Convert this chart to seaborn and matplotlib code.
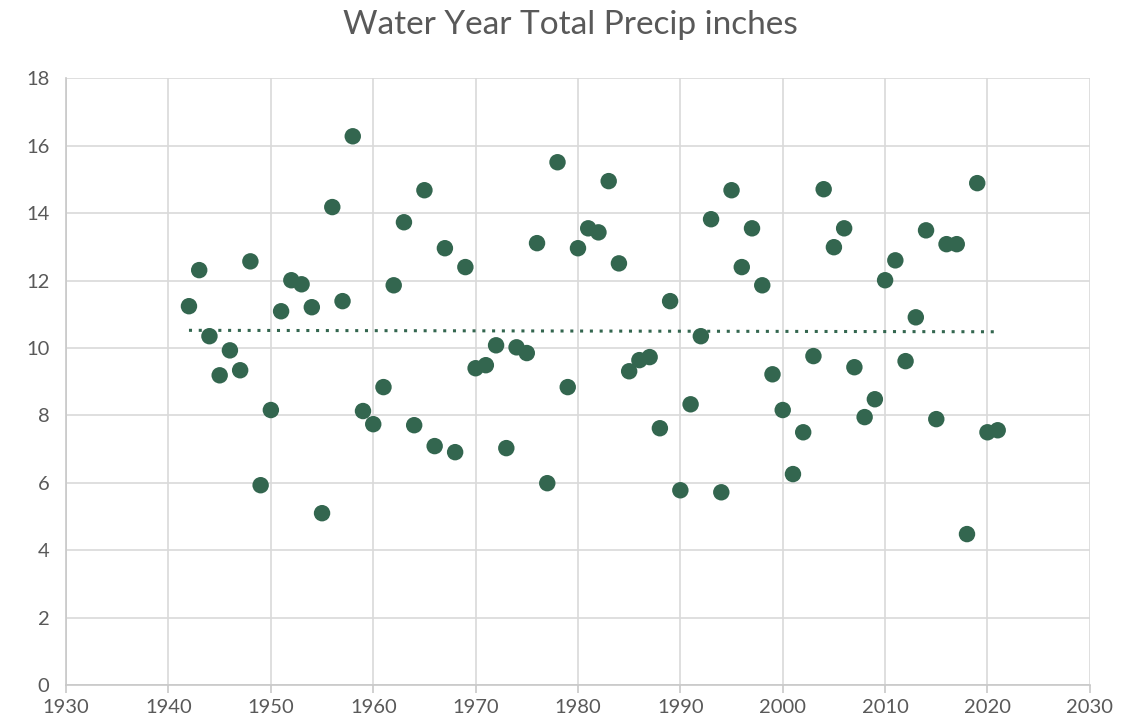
import numpy as np
import pandas as pd
import matplotlib
matplotlib.use("Agg")
import matplotlib.pyplot as plt
import seaborn as sns

# Water year totals
years = list(range(1942, 2022))
precip = [11.24, 12.31, 10.35, 9.19, 9.93, 9.34, 12.57, 5.93, 8.16, 11.09,
          12.01, 11.89, 11.21, 5.10, 14.18, 11.39, 16.28, 8.13, 7.74, 8.84,
          11.86, 13.73, 7.71, 14.68, 7.09, 12.96, 6.91, 12.40, 9.40, 9.49,
          10.08, 7.03, 10.02, 9.85, 13.11, 5.99, 15.51, 8.84, 12.96, 13.55,
          13.43, 14.95, 12.51, 9.31, 9.64, 9.73, 7.62, 11.39, 5.78, 8.33,
          10.35, 13.82, 5.72, 14.68, 12.40, 13.55, 11.86, 9.22, 8.16, 6.26,
          7.50, 9.76, 14.71, 12.99, 13.55, 9.43, 7.95, 8.48, 12.01, 12.60,
          9.61, 10.91, 13.49, 7.89, 13.08, 13.08, 4.48, 14.89, 7.50, 7.56]
x_ticks = list(range(1930, 2031, 10))
y_ticks = list(range(0, 19, 2))

df = pd.DataFrame({"year": years, "precip": precip})

sns.set_theme(style="white")
plt.rcParams['font.family'] = ['Lato', 'DejaVu Sans']

green = "#33664f"
grid_c = "#d9d9d9"
text_c = "#595959"

fig = plt.figure(figsize=(11.4, 7.25), dpi=100)
ax = fig.add_axes([0.058, 0.055, 0.898, 0.837])

# linear trendline like Excel
coef = np.polyfit(df["year"], df["precip"], 1)
trend = pd.DataFrame({"year": [years[0], years[-1]]})
trend["precip"] = np.polyval(coef, trend["year"])
sns.lineplot(data=trend, x="year", y="precip", ax=ax, color=green,
             linestyle=(0, (1, 2.2)), linewidth=2.2, zorder=2)

sns.scatterplot(data=df, x="year", y="precip", ax=ax, color=green,
                s=140, edgecolor="none", zorder=3)

ax.set_xlim(1930, 2030)
ax.set_ylim(0, 18)
ax.set_xticks(x_ticks)
ax.set_yticks(y_ticks)
ax.grid(True, color=grid_c, linewidth=1.2)
ax.set_axisbelow(True)
for side in ["top", "right"]:
    ax.spines[side].set_visible(False)
ax.spines["left"].set_color("#c8c8c8")
ax.spines["bottom"].set_color("#c8c8c8")
ax.spines["left"].set_linewidth(1.2)
ax.spines["bottom"].set_linewidth(1.2)
ax.tick_params(axis="x", length=6, color="#c8c8c8", width=1.2,
               labelsize=14.5, labelcolor=text_c, pad=4, bottom=True)
ax.tick_params(axis="y", length=0, labelsize=14.5, labelcolor=text_c, pad=12)
ax.set_xlabel("")
ax.set_ylabel("")

fig.text(0.5, 0.965, "Water Year Total Precip inches", ha="center", va="center",
         fontsize=24, color=text_c)

fig.savefig("out.png", dpi=100)
